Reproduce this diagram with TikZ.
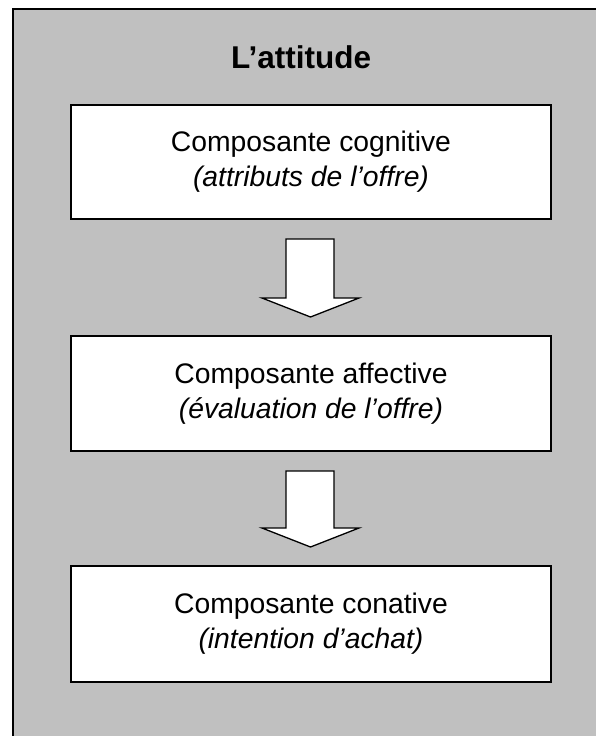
\documentclass[tikz,border=0pt]{standalone}
\usepackage{fontspec}
\setmainfont{Liberation Sans}
\begin{document}
\begin{tikzpicture}[x=1pt,y=-1pt,
  comp/.style={draw=black,line width=1.5pt,fill=white,minimum width=480pt,minimum height=114pt,inner sep=0pt,align=center,font=\fontsize{28.3}{35}\selectfont},
  bigarrow/.style={draw=black,line width=1.3pt,fill=white,line join=miter}]
\useasboundingbox (0,0) rectangle (596,736);
\clip (0,0) rectangle (596,736);
\draw[line width=1.5pt,fill={rgb,255:red,192;green,192;blue,192}] (13,9) rectangle (620,760);
\node[anchor=base,font=\bfseries\fontsize{31.5}{38}\selectfont] (title) at (301,68) {L’attitude};
\node[comp] (cog) at (311,162) {Composante cognitive\\\textit{(attributs de l’offre)}};
\node[comp,minimum height=115pt] (aff) at (311,393.5) {Composante affective\\\textit{(évaluation de l’offre)}};
\node[comp,minimum height=116pt] (con) at (311,624) {Composante conative\\\textit{(intention d’achat)}};
\draw[bigarrow] (286,239) -- (334,239) -- (334,298) -- (359,298) -- (310.5,317) -- (262,298) -- (286,298) -- cycle;
\draw[bigarrow] (286,471) -- (334,471) -- (334,528) -- (359,528) -- (310.5,547) -- (262,528) -- (286,528) -- cycle;
\end{tikzpicture}
\end{document}
